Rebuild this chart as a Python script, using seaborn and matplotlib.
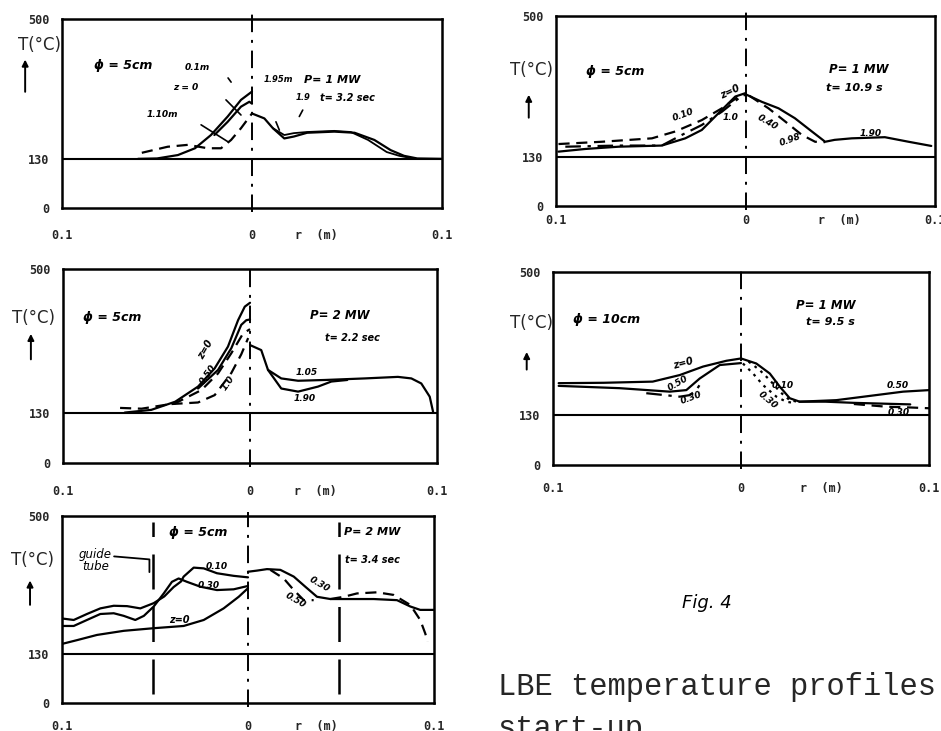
import numpy as np
import pandas as pd
import seaborn as sns
import matplotlib.pyplot as plt

# ---- panel 1 : phi = 5 cm, P = 1 MW, t = 3.2 s ----
p1_a_r = [-0.060, -0.050, -0.039, -0.030, -0.0216, -0.0128, -0.0058, 0.0]
p1_a_T = [130, 131, 140, 158, 193, 242, 286, 308]
p1_b_r = [-0.0198, -0.0128, -0.0058, -0.0014, 0.0]
p1_b_T = [193, 228, 268, 281, 276]
p1_c_r = [-0.058, -0.0444, -0.0338, -0.0233, -0.0163, -0.011, -0.0058, 0.0]
p1_c_T = [146, 162, 167, 158, 158, 180, 211, 250]
p1_d_r = [0.0, 0.0065, 0.011, 0.017, 0.022, 0.029, 0.0433, 0.054, 0.0644, 0.073, 0.080, 0.087, 0.1]
p1_d_T = [250, 237, 211, 184, 189, 199, 202, 199, 180, 153, 138, 131, 130]
p1_e_r = [0.011, 0.017, 0.022, 0.029, 0.0433, 0.052, 0.0611, 0.0709, 0.0775, 0.085]
p1_e_T = [211, 193, 198, 201, 204, 201, 180, 148, 138, 131]

# ---- panel 2 : phi = 5 cm, P = 1 MW, t = 10.9 s ----
p2_a_r = [-0.0987, -0.0846, -0.067, -0.0442, -0.0318, -0.0231, -0.0125, -0.0054, 0.0]
p2_a_T = [143, 150, 156, 159, 178, 200, 253, 288, 297]
p2_b_r = [-0.0987, -0.0758, -0.0494, -0.0371, -0.0231, -0.0125, -0.0037, 0.0]
p2_b_T = [163, 169, 178, 196, 226, 257, 288, 293]
p2_c_r = [-0.0951, -0.067, -0.0442, -0.0336, -0.0231, -0.0125, -0.0037, 0.0]
p2_c_T = [156, 159, 159, 187, 213, 248, 283, 291]
p2_d_r = [0.0, 0.0086, 0.0174, 0.026, 0.035, 0.042, 0.047, 0.056, 0.0735, 0.086, 0.098]
p2_d_T = [294, 274, 257, 231, 196, 169, 174, 178, 181, 169, 158]
p2_e_r = [0.002, 0.0121, 0.021, 0.0297, 0.0367, 0.042]
p2_e_T = [290, 257, 222, 187, 169, 168]

# ---- panel 3 : phi = 5 cm, P = 2 MW ----
p3_a_r = [-0.067, -0.0528, -0.040, -0.0278, -0.0189, -0.0118, -0.0064, -0.0028, 0.0]
p3_a_T = [130, 137, 158, 197, 244, 300, 368, 403, 413]
p3_b_r = [-0.0278, -0.0171, -0.010, -0.0047, -0.002, 0.0]
p3_b_T = [192, 240, 296, 356, 368, 370]
p3_c_r = [-0.0695, -0.058, -0.040, -0.026, -0.0171, -0.010, -0.0037, 0.0]
p3_c_T = [142, 140, 154, 188, 231, 283, 334, 345]
p3_d_r = [-0.042, -0.0278, -0.0189, -0.010, -0.0047, -0.001]
p3_d_T = [152, 156, 175, 232, 280, 322]
p3_e_r = [0.0, 0.006, 0.0096, 0.0167, 0.0257, 0.040, 0.0613, 0.0791, 0.0863, 0.0916, 0.0961, 0.0979]
p3_e_T = [304, 291, 240, 218, 212, 214, 218, 222, 218, 205, 171, 132]
p3_f_r = [0.0096, 0.0167, 0.0257, 0.0364, 0.0435, 0.052]
p3_f_T = [240, 192, 184, 197, 210, 214]

# ---- panel 4 : phi = 10 cm, P = 1 MW, t = 9.5 s ----
p4_a_r = [-0.097, -0.073, -0.047, -0.0326, -0.0202, -0.0078, 0.0]
p4_a_T = [212, 213, 216, 233, 255, 270, 276]
p4_b_r = [-0.097, -0.0645, -0.0379, -0.0291, -0.022, -0.0113, 0.0]
p4_b_T = [205, 199, 190, 194, 224, 259, 264]
p4_c_r = [-0.0504, -0.0326, -0.0273, -0.0238, -0.021]
p4_c_T = [186, 177, 181, 194, 215]
p4_d_r = [0.0, 0.0081, 0.0153, 0.0206, 0.0259, 0.0312, 0.0507, 0.0685, 0.0862, 0.1]
p4_d_T = [276, 263, 237, 203, 173, 164, 168, 179, 190, 194]
p4_e_r = [0.001, 0.0064, 0.0117, 0.0188, 0.024, 0.029]
p4_e_T = [263, 237, 207, 177, 164, 160]
p4_f_r = [0.004, 0.0099, 0.0153, 0.0206, 0.0259, 0.031]
p4_f_T = [268, 246, 220, 190, 168, 163]
p4_g_r = [0.031, 0.045, 0.060, 0.075, 0.090]
p4_g_T = [164, 164, 161, 159, 157]
p4_h_r = [0.060, 0.0773, 0.090, 0.1]
p4_h_T = [158, 151, 149, 147]

# ---- panel 5 : phi = 5 cm, P = 2 MW, t = 3.4 s, guide tube ----
p5_a_r = [-0.1, -0.0937, -0.0866, -0.0794, -0.0722, -0.065, -0.0579, -0.0507, -0.045,
          -0.040, -0.036, -0.0346, -0.0292, -0.0238, -0.0167, -0.0077, 0.0]
p5_a_T = [226, 222, 238, 253, 260, 259, 253, 267, 285, 310, 325, 338, 362, 360, 347, 340, 336]
p5_b_r = [-0.1, -0.0937, -0.0866, -0.0794, -0.0722, -0.0668, -0.0606, -0.056, -0.0507,
          -0.0453, -0.0409, -0.0373, -0.0328, -0.0256, -0.0167, -0.0077, 0.0]
p5_b_T = [206, 206, 222, 238, 240, 233, 222, 233, 258, 293, 324, 333, 324, 311, 302, 304, 313]
p5_c_r = [-0.1, -0.092, -0.0812, -0.0668, -0.0507, -0.0346, -0.0238, -0.0131, -0.005, 0.0]
p5_c_T = [158, 168, 182, 193, 200, 206, 222, 253, 284, 307]
p5_d_r = [0.0, 0.0048, 0.0102, 0.0174, 0.0246, 0.0308, 0.0371, 0.0443, 0.0676, 0.0801,
          0.0873, 0.0926, 0.1]
p5_d_T = [351, 354, 358, 356, 338, 311, 284, 278, 278, 275, 258, 249, 249]
p5_e_r = [0.012, 0.0192, 0.0246, 0.030, 0.0353]
p5_e_T = [356, 333, 302, 275, 275]
p5_f_r = [0.0443, 0.0515, 0.0586, 0.0694, 0.0783, 0.0873, 0.0926, 0.0953, 0.0966]
p5_f_T = [278, 284, 293, 296, 289, 262, 222, 186, 164]
p5_guide_r = [-0.051, 0.049]

y_ticks = [0, 130, 500]
x_ticks = [-0.1, 0, 0.1]
x_tick_labels = ['0.1', '0', '0.1']

DASH = (0, (5, 3))
DASHDOT = (0, (7, 3, 1.5, 3))
DOT = (0, (1.2, 2.2))
CENTER = (0, (9, 4, 1.5, 4))
HAND = dict(family='DejaVu Sans', style='italic', color='black')


def curve(ax, r, T, ls='-', lw=1.6):
    sns.lineplot(x=r, y=T, ax=ax, color='black', linestyle=ls, linewidth=lw,
                 sort=False, estimator=None, legend=False)


def note(ax, x, y, s, size=6.5, rot=0, ha='center', weight='bold'):
    ax.text(x, y, s, fontsize=size, rotation=rot, ha=ha, va='center',
            fontweight=weight, **HAND)


def setup(ax, rpos, pad, lab_xy, arrow_x, arrow_y):
    ax.set_xlim(-0.1, 0.1)
    ax.set_ylim(0, 500)
    ax.set_yticks(y_ticks)
    ax.set_yticklabels([str(v) for v in y_ticks])
    ax.set_xticks(x_ticks)
    ax.set_xticklabels(x_tick_labels)
    ax.set_xticks([rpos], minor=True)
    ax.set_xticklabels(['r  (m)'], minor=True)
    ax.tick_params(axis='both', which='major', direction='out', length=5, width=1.5,
                   labelsize=8.5, color='black')
    ax.tick_params(axis='x', which='major', length=3, pad=pad)
    ax.tick_params(axis='x', which='minor', length=0, pad=pad + 3, labelsize=8.5)
    ax.tick_params(axis='y', pad=4)
    for lab in ax.get_xticklabels() + ax.get_yticklabels() + ax.get_xticklabels(minor=True):
        lab.set_fontfamily('DejaVu Sans Mono')
        lab.set_fontweight('bold')
    ax.set_xlabel('')
    ax.set_ylabel('')
    for s in ax.spines.values():
        s.set_visible(True)
        s.set_linewidth(1.8)
        s.set_color('black')
    ax.axhline(130, color='black', lw=1.5)
    ax.plot([0, 0], [-10, 512], color='black', lw=1.4, ls=CENTER, clip_on=False)
    ax.text(lab_xy[0], lab_xy[1], 'T(°C)', transform=ax.transAxes, fontsize=12,
            ha='center', va='center', family='DejaVu Sans')
    ax.annotate('', xy=(arrow_x, arrow_y[1]), xytext=(arrow_x, arrow_y[0]),
                xycoords='axes fraction', textcoords='axes fraction',
                arrowprops=dict(arrowstyle='-|>', color='black', lw=1.4,
                                mutation_scale=9), annotation_clip=False)


sns.set_style('white')
plt.rcParams['font.family'] = ['DejaVu Sans']

fig = plt.figure(figsize=(9.41, 7.31), dpi=100)
ax1 = fig.add_axes([0.0659, 0.7155, 0.4038, 0.2585])
ax2 = fig.add_axes([0.5909, 0.7182, 0.4028, 0.2600])
ax3 = fig.add_axes([0.0670, 0.3666, 0.3974, 0.2654])
ax4 = fig.add_axes([0.5877, 0.3639, 0.3996, 0.2640])
ax5 = fig.add_axes([0.0659, 0.0383, 0.3953, 0.2558])

# panel 1
curve(ax1, p1_a_r, p1_a_T)
curve(ax1, p1_b_r, p1_b_T)
curve(ax1, p1_c_r, p1_c_T, DASH)
curve(ax1, p1_d_r, p1_d_T)
curve(ax1, p1_e_r, p1_e_T, lw=1.3)
setup(ax1, 0.034, 12, (-0.058, 0.862), -0.097, (0.60, 0.80))
note(ax1, -0.083, 378, 'ϕ = 5cm', size=9, ha='left')
note(ax1, -0.029, 373, '0.1m')
note(ax1, -0.035, 320, 'z = 0')
note(ax1, -0.047, 246, '1.10m')
note(ax1, 0.0138, 339, '1.95m', size=6)
note(ax1, 0.0275, 339, 'P= 1 MW', size=8, ha='left')
note(ax1, 0.0267, 291, '1.9', size=6)
note(ax1, 0.036, 291, 't= 3.2 sec', size=7, ha='left')
for seg in [((-0.0137, 286), (-0.0058, 246)), ((-0.0268, 220), (-0.0126, 175)),
            ((-0.0126, 344), (-0.011, 333)), ((0.0267, 259), (0.0249, 242)),
            ((0.0126, 228), (0.0144, 206))]:
    ax1.plot([seg[0][0], seg[1][0]], [seg[0][1], seg[1][1]], color='black', lw=1.2)

# panel 2
curve(ax2, p2_a_r, p2_a_T)
curve(ax2, p2_b_r, p2_b_T, DASH)
curve(ax2, p2_c_r, p2_c_T, DASHDOT)
curve(ax2, p2_d_r, p2_d_T)
curve(ax2, p2_e_r, p2_e_T, DASH)
setup(ax2, 0.0496, 3, (-0.066, 0.716), -0.072, (0.45, 0.60))
note(ax2, -0.0844, 353, 'ϕ = 5cm', size=9, ha='left')
note(ax2, 0.0438, 358, 'P= 1 MW', size=8.5, ha='left')
note(ax2, 0.0422, 311, 't= 10.9 s', size=8, ha='left')
note(ax2, -0.0084, 300, 'z=0', size=7, rot=25)
note(ax2, -0.0327, 240, '0.10', rot=20)
note(ax2, -0.008, 232, '1.0')
note(ax2, 0.0115, 221, '0.40', rot=-30)
note(ax2, 0.0235, 174, '0.98', rot=20)
note(ax2, 0.066, 192, '1.90')

# panel 3
curve(ax3, p3_a_r, p3_a_T)
curve(ax3, p3_b_r, p3_b_T)
curve(ax3, p3_c_r, p3_c_T, DASH)
curve(ax3, p3_d_r, p3_d_T, DASH)
curve(ax3, p3_e_r, p3_e_T)
curve(ax3, p3_f_r, p3_f_T)
setup(ax3, 0.035, 13, (-0.08, 0.75), -0.086, (0.52, 0.68))
note(ax3, -0.0893, 374, 'ϕ = 5cm', size=9, ha='left')
note(ax3, 0.032, 381, 'P= 2 MW', size=8.5, ha='left')
note(ax3, 0.040, 322, 't= 2.2 sec', size=7, ha='left')
note(ax3, -0.024, 291, 'z=0', size=7, rot=60)
note(ax3, -0.0225, 227, '0.50', rot=55)
note(ax3, -0.0118, 206, '1.0', rot=55)
note(ax3, 0.0305, 232, '1.05')
note(ax3, 0.0294, 167, '1.90')

# panel 4
curve(ax4, p4_a_r, p4_a_T)
curve(ax4, p4_b_r, p4_b_T)
curve(ax4, p4_c_r, p4_c_T, DASHDOT)
curve(ax4, p4_d_r, p4_d_T)
curve(ax4, p4_e_r, p4_e_T, DOT)
curve(ax4, p4_f_r, p4_f_T, DOT)
curve(ax4, p4_g_r, p4_g_T)
curve(ax4, p4_h_r, p4_h_T, DASH)
setup(ax4, 0.0425, 9, (-0.058, 0.735), -0.070, (0.48, 0.60))
note(ax4, -0.0894, 376, 'ϕ = 10cm', size=9, ha='left')
note(ax4, 0.029, 414, 'P= 1 MW', size=8.5, ha='left')
note(ax4, 0.0346, 370, 't= 9.5 s', size=8, ha='left')
note(ax4, -0.0309, 264, 'z=0', size=7, rot=15)
note(ax4, -0.0335, 212, '0.50', rot=30)
note(ax4, -0.0266, 174, '0.30', rot=20)
note(ax4, 0.0223, 207, '0.10')
note(ax4, 0.0144, 168, '0.30', rot=-40)
note(ax4, 0.0835, 207, '0.50')
note(ax4, 0.084, 137, '0.30')

# panel 5
curve(ax5, p5_a_r, p5_a_T)
curve(ax5, p5_b_r, p5_b_T)
curve(ax5, p5_c_r, p5_c_T)
curve(ax5, p5_d_r, p5_d_T)
curve(ax5, p5_e_r, p5_e_T, DASH)
curve(ax5, p5_f_r, p5_f_T, DASH)
for g in p5_guide_r:
    ax5.axvline(g, ymin=0.05, ymax=0.97, color='black', lw=1.8, ls=(0, (14, 7)))
setup(ax5, 0.037, 9, (-0.078, 0.765), -0.086, (0.51, 0.67))
note(ax5, -0.0425, 455, 'ϕ = 5cm', size=9, ha='left')
note(ax5, 0.0516, 457, 'P= 2 MW', size=8, ha='left')
note(ax5, 0.052, 382, 't= 3.4 sec', size=7, ha='left')
ax5.text(-0.082, 382, 'guide\ntube', fontsize=8.5, ha='center', va='center',
         linespacing=0.9, **HAND)
ax5.plot([-0.072, -0.053, -0.053], [392, 384, 350], color='black', lw=1.3)
note(ax5, -0.037, 222, 'z=0', size=7)
note(ax5, -0.0167, 364, '0.10')
note(ax5, -0.021, 313, '0.30')
note(ax5, 0.0387, 316, '0.30', rot=-30)
note(ax5, 0.0255, 275, '0.50', rot=-30)

fig.text(707 / 941, 1 - 603 / 731, 'Fig. 4', fontsize=13, ha='center', va='center', **HAND)
fig.text(498 / 941, 1 - 687 / 731, 'LBE temperature profiles', fontsize=22,
         family='Liberation Mono', ha='left', va='center')
fig.text(498 / 941, 1 - 729 / 731, 'start-up', fontsize=22,
         family='Liberation Mono', ha='left', va='center')

fig.savefig('out.png', dpi=100)
